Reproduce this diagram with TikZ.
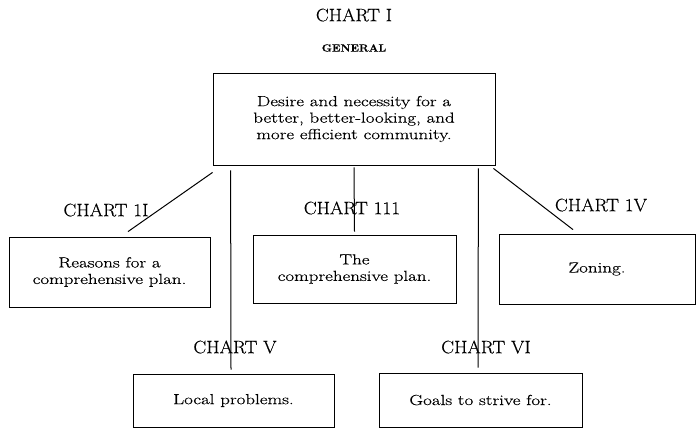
\documentclass[tikz,border=0pt]{standalone}
\usepackage{fontspec}
\setmainfont{Latin Modern Roman}[FakeStretch=1.3, FakeBold=0.5]
\newfontfamily\labelfont{Latin Modern Roman}[FakeStretch=1.07, FakeBold=0.4]
\tikzset{
  chartbox/.style={draw, line width=0.8pt, align=center, inner sep=2pt,
    font=\fontsize{14.6}{16.5}\selectfont},
  chartlabel/.style={inner sep=0pt, font=\labelfont\fontsize{18}{20}\selectfont},
  link/.style={line width=1pt},
}
\begin{document}
\begin{tikzpicture}[x=1pt, y=-1pt]
    \useasboundingbox (0,0) rectangle (698,428);
    % titles
    \node[chartlabel] (title) at (354,15) {CHART I};
    \node[inner sep=0pt, font=\labelfont\fontsize{10.5}{12}\selectfont\bfseries] (sub) at (354,48) {GENERAL};

    % boxes
    \node[chartbox, minimum width=282pt, minimum height=92pt] (gen) at (354,119)
      {Desire and necessity for a\\better, better-looking, and\\more efficient community.};
    \node[chartbox, minimum width=201pt, minimum height=70pt] (reasons) at (109.5,272)
      {Reasons for a\\comprehensive plan.};
    \node[chartbox, minimum width=203pt, minimum height=68pt] (plan) at (354.5,269)
      {The\\comprehensive plan.};
    \node[chartbox, minimum width=196pt, minimum height=70pt] (zoning) at (597,269) {Zoning.};
    \node[chartbox, minimum width=201pt, minimum height=53pt] (local) at (233.5,400.5) {Local problems.};
    \node[chartbox, minimum width=203pt, minimum height=54pt] (goals) at (480.5,400) {Goals to strive for.};

    % chart labels
    \node[chartlabel] (l2) at (106,210) {CHART 1I};
    \node[chartlabel] (l3) at (352,208) {CHART 111};
    \node[chartlabel] (l4) at (601,205) {CHART 1V};
    \node[chartlabel] (l5) at (235,347) {CHART V};
    \node[chartlabel] (l6) at (486,347) {CHART VI};

    % connectors
    \draw[link] ([yshift=-7pt]gen.south west) -- ([xshift=18.5pt,yshift=5pt]reasons.north);
    \draw[link] ([yshift=-2pt]gen.south) -- ([yshift=3pt]plan.north);
    \draw[link] ([xshift=-2pt,yshift=-3pt]gen.south east) -- ([xshift=-24pt,yshift=4pt]zoning.north);
    \draw[link] ([xshift=18pt,yshift=-5pt]gen.south west) -- ([xshift=-2.5pt,yshift=4pt]local.north);
    \draw[link] ([xshift=-17pt,yshift=-3pt]gen.south east) -- ([xshift=-2.5pt,yshift=5pt]goals.north);
\end{tikzpicture}
\end{document}
